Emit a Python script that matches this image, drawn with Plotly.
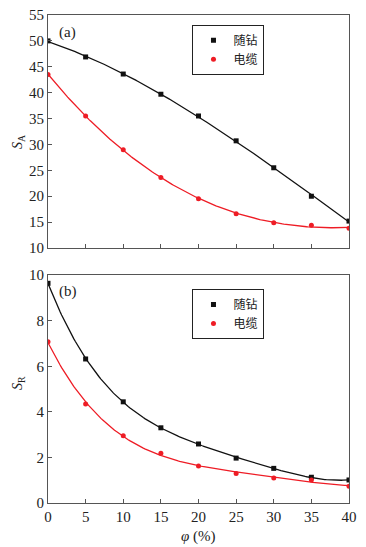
import numpy as np
import plotly.graph_objects as go

# ---- 数据 ----
phi = [0, 5, 10, 15, 20, 25, 30, 35, 40]

# (a)
sa_lwd = [50.0, 46.9, 43.6, 39.7, 35.5, 30.7, 25.5, 20.0, 15.2]
sa_wl = [43.5, 35.5, 29.0, 23.6, 19.5, 16.6, 14.9, 14.4, 13.8]

# (b)
sr_lwd = [9.64, 6.32, 4.44, 3.30, 2.59, 1.97, 1.52, 1.13, 1.01]
sr_wl = [7.07, 4.34, 2.95, 2.18, 1.62, 1.29, 1.10, 1.01, 0.73]

names = ['随钻', '电缆']
colors = ['#111111', '#ee1c25']

TICKFONT = dict(family='Liberation Serif', size=15, color='#222')


def fit(x, y, deg):
    xs = np.linspace(min(x), max(x), 200)
    return xs, np.polyval(np.polyfit(x, y, deg), xs)


fig = go.Figure()

panels = [
    ('x', 'y', [sa_lwd, sa_wl], 3, 'legend'),
    ('x2', 'y2', [sr_lwd, sr_wl], 4, 'legend2'),
]
for xa, ya, series, deg, leg in panels:
    for i, ys in enumerate(series):
        xs, yf = fit(phi, ys, deg)
        fig.add_trace(go.Scatter(x=xs, y=yf, mode='lines', xaxis=xa, yaxis=ya,
                                 line=dict(color=colors[i], width=1.3),
                                 showlegend=False, hoverinfo='skip'))
        fig.add_trace(go.Scatter(x=phi, y=ys, mode='markers', xaxis=xa, yaxis=ya,
                                 name=names[i], legend=leg,
                                 marker=dict(color=colors[i], size=5,
                                             symbol='square' if i == 0 else 'circle')))

axis_common = dict(showline=True, linecolor='#555', linewidth=1.2, mirror=True,
                   ticks='inside', ticklen=4, tickcolor='#555', showgrid=False,
                   zeroline=False, tickfont=TICKFONT, automargin=False)

legend_style = dict(xanchor='left', yanchor='top', bordercolor='#222', borderwidth=1,
                    bgcolor='white', font=dict(family='Noto Sans CJK SC', size=12, color='#222'),
                    itemwidth=30)

fig.update_layout(
    width=366, height=547,
    margin=dict(l=48, r=17, t=15, b=44),
    plot_bgcolor='white', paper_bgcolor='white',
    xaxis=dict(domain=[0, 1], anchor='y', range=[0, 40], dtick=5, showticklabels=False, **axis_common),
    yaxis=dict(domain=[0.5225, 1], anchor='x', range=[10, 55], dtick=5, **axis_common),
    xaxis2=dict(domain=[0, 1], anchor='y2', range=[0, 40], dtick=5, **axis_common),
    yaxis2=dict(domain=[0, 0.467], anchor='x2', range=[0, 10], dtick=2, **axis_common),
    legend=dict(x=0.48, y=0.98, **legend_style),
    legend2=dict(x=0.48, y=0.4385, **legend_style),
    showlegend=True,
)

fig.add_annotation(text='(a)', x=0.03, y=0.985, xref='paper', yref='paper', showarrow=False,
                   xanchor='left', yanchor='top', font=TICKFONT)
fig.add_annotation(text='(b)', x=0.03, y=0.455, xref='paper', yref='paper', showarrow=False,
                   xanchor='left', yanchor='top', font=TICKFONT)

fig.add_annotation(text='<i>S</i><sub>A</sub>', x=-0.135, y=0.758, xref='paper', yref='paper',
                   showarrow=False, textangle=-90, font=dict(family='Liberation Serif', size=14, color='#222'))
fig.add_annotation(text='<i>S</i><sub>R</sub>', x=-0.135, y=0.227, xref='paper', yref='paper',
                   showarrow=False, textangle=-90, font=dict(family='Liberation Serif', size=14, color='#222'))
fig.add_annotation(text='<i>φ</i> (%)', x=0.5, y=-0.048, xref='paper', yref='paper',
                   showarrow=False, yanchor='top', font=dict(family='Liberation Serif', size=15, color='#222'))

fig.update_layout(modebar_remove=['toImage', 'zoom', 'pan', 'select', 'lasso', 'zoomIn', 'zoomOut',
                                  'autoScale', 'resetScale'])

# 去掉页面默认边距，让图正好占满窗口
fig.write_html("out.html", config={'displayModeBar': False},
               post_script="document.body.style.margin='0';")
